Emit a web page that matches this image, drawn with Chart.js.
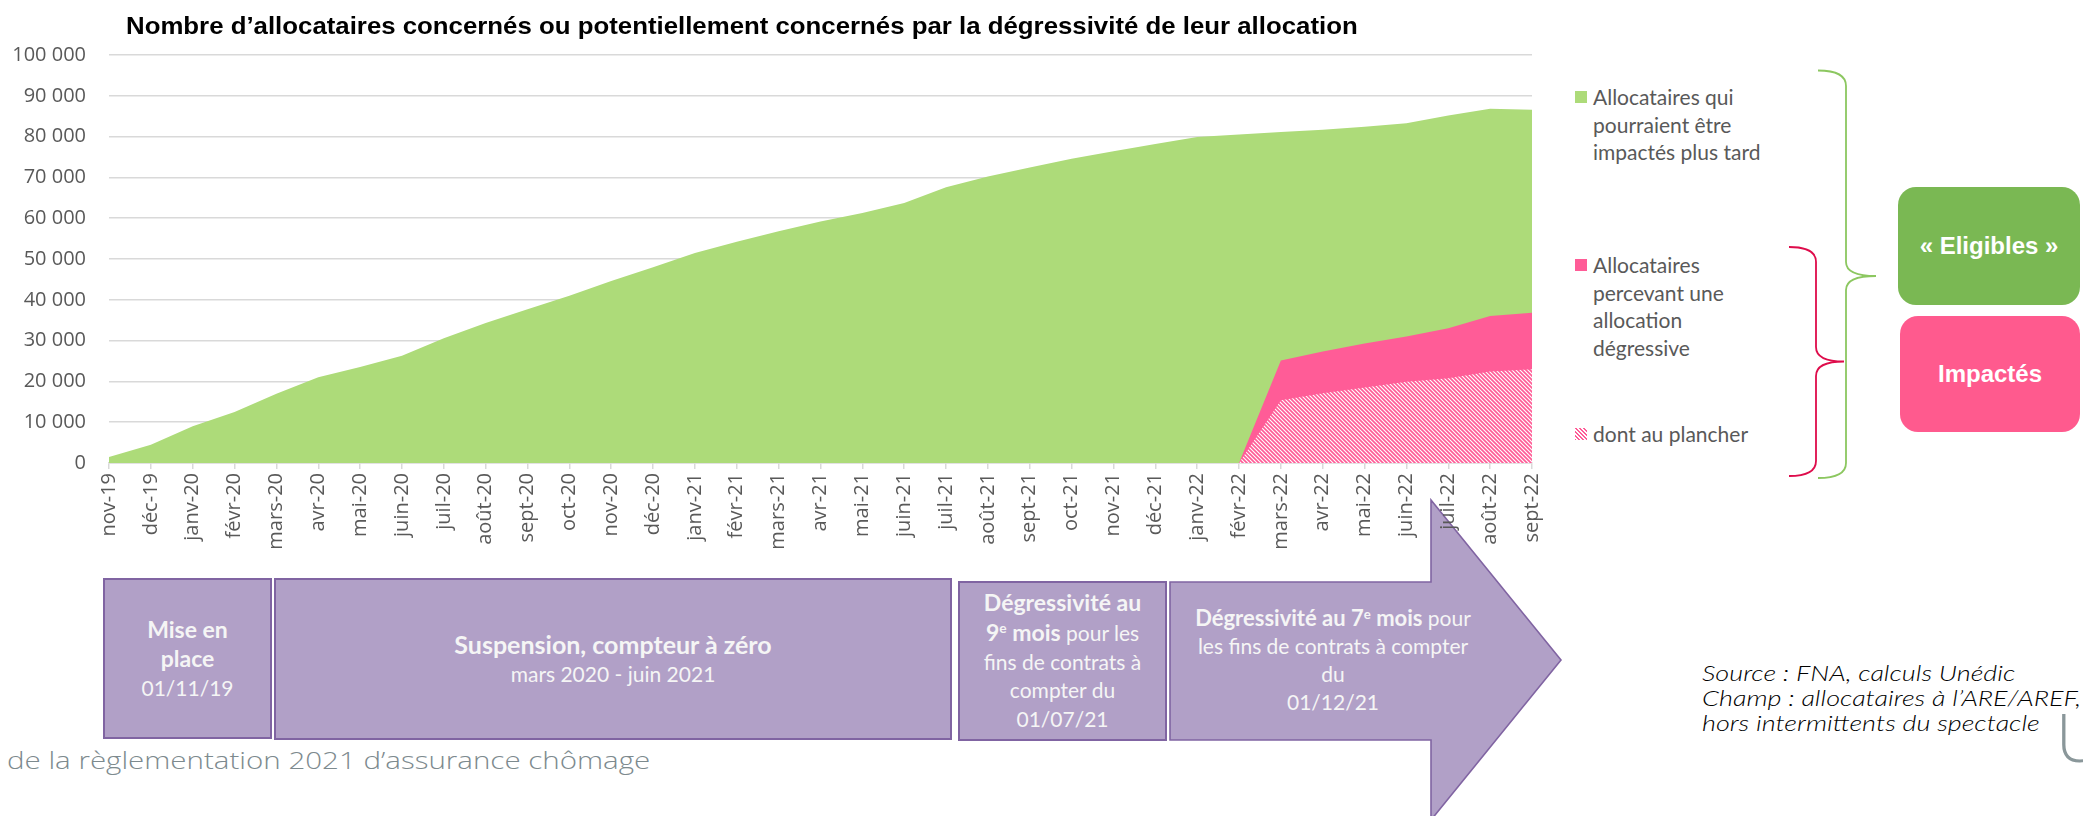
<!DOCTYPE html>
<html lang="fr">
<head>
<meta charset="utf-8">
<title>Dégressivité</title>
<script src="https://cdn.jsdelivr.net/npm/chart.js@4.4.1/dist/chart.umd.min.js"></script>
<style>
html,body{margin:0;padding:0;background:#fff;}
#page{position:relative;width:2083px;height:816px;overflow:hidden;font-family:'Lato','Open Sans',sans-serif;}
#chart{position:absolute;left:0;top:0;z-index:2;}
#deco{position:absolute;left:0;top:0;z-index:1;}
.title{position:absolute;left:126px;top:12px;white-space:nowrap;font-family:'Liberation Sans',Arial,sans-serif;font-weight:bold;font-size:24px;line-height:28px;color:#000;transform-origin:left center;z-index:3;}
.leg{position:absolute;left:1575px;font-size:21px;line-height:27.7px;color:#595959;z-index:3;}
.leg .sw{position:absolute;left:0;width:12px;height:12px;}
.leg .tx{position:absolute;left:18px;white-space:nowrap;}
.rbox{position:absolute;border-radius:18px;color:#fff;font-family:'Liberation Sans',Arial,sans-serif;font-weight:bold;font-size:24px;display:flex;align-items:center;justify-content:center;z-index:3;}
.box{position:absolute;box-sizing:border-box;background:#B1A0C7;border:2px solid #8064A2;color:#F5F5F5;display:flex;flex-direction:column;justify-content:center;align-items:center;text-align:center;font-size:21px;line-height:29px;z-index:3;}
.box b{font-weight:bold;}
.box sup,.atext sup{font-size:0.6em;line-height:0;vertical-align:0.55em;}
.atext{position:absolute;left:1180px;width:306px;top:600px;height:120px;color:#F5F5F5;text-align:center;font-size:21px;line-height:27.8px;display:flex;flex-direction:column;justify-content:center;z-index:3;}
.src{position:absolute;left:1702px;top:660px;font-style:italic;font-weight:300;font-size:21px;line-height:25px;color:#000;white-space:nowrap;transform-origin:left top;z-index:3;}
.foot{position:absolute;left:7px;top:744px;font-family:'Open Sans',sans-serif;font-weight:300;font-size:24px;line-height:32px;color:#7D8A8E;white-space:nowrap;transform-origin:left center;z-index:3;}
.ulogo{position:absolute;left:2056px;top:696px;font-family:'Open Sans',sans-serif;font-weight:300;font-size:66px;line-height:80px;color:#8A979A;z-index:3;}
</style>
</head>
<body>
<div id="page">
  <svg id="deco" width="2083" height="816">
    <polygon points="1170,582 1431,582 1431,500 1561,660 1431,820 1431,740 1170,740" fill="#B1A0C7" stroke="#8064A2" stroke-width="1.6"/>
    <path d="M 1818 70.5 Q 1846 70.5 1846 86 L 1846 262 Q 1846 276 1876 276 Q 1846 276 1846 290 L 1846 463 Q 1846 478 1818 478" fill="none" stroke="#8CC760" stroke-width="1.8"/>
    <path d="M 1789 247 Q 1816 247 1816 262 L 1816 347 Q 1816 361.5 1844 361.5 Q 1816 361.5 1816 376 L 1816 461 Q 1816 476 1789 476" fill="none" stroke="#DE0C4B" stroke-width="1.8"/>
  </svg>
  <canvas id="chart" width="1560" height="560" style="width:1560px;height:560px"></canvas>

  <div class="title" id="title">Nombre d’allocataires concernés ou potentiellement concernés par la dégressivité de leur allocation</div>

  <div class="leg" style="top:82.8px;">
    <div class="sw" style="top:8px;background:#ADDB79;"></div>
    <div class="tx">Allocataires qui<br>pourraient être<br>impactés plus tard</div>
  </div>
  <div class="leg" style="top:251px;">
    <div class="sw" style="top:8px;background:#FF5C97;"></div>
    <div class="tx">Allocataires<br>percevant une<br>allocation<br>dégressive</div>
  </div>
  <div class="leg" style="top:419.5px;">
    <div class="sw" style="top:8px;background:repeating-linear-gradient(45deg,#FF5C97 0 1.4px,#fff 1.4px 2.8px);"></div>
    <div class="tx">dont au plancher</div>
  </div>

  <div class="rbox" style="left:1898px;top:187px;width:182px;height:118px;background:#7AB853;">« Eligibles »</div>
  <div class="rbox" style="left:1900px;top:316px;width:180px;height:116px;background:#FF5A8E;">Impactés</div>

  <div class="box" style="left:103px;top:578px;width:169px;height:161px;"><b style="font-size:23px;">Mise en<br>place</b><span>01/11/19</span></div>
  <div class="box" style="left:274px;top:578px;width:678px;height:162px;line-height:30px;"><b style="font-size:25px;">Suspension, compteur à zéro</b><span style="font-size:21px;">mars 2020 - juin 2021</span></div>
  <div class="box" style="left:958px;top:581px;width:209px;height:160px;line-height:28.7px;font-size:21px;"><div><b style="font-size:23px;">Dégressivité au<br>9<sup>e</sup> mois</b> pour les<br>fins de contrats à<br>compter du<br>01/07/21</div></div>
  <div class="atext"><div><b style="font-size:22px;">Dégressivité au 7<sup>e</sup> mois</b> pour<br>les fins de contrats à compter<br>du<br>01/12/21</div></div>

  <div class="src" id="src"><span>Source : FNA, calculs Unédic</span><br><span id="srcw">Champ : allocataires à l’ARE/AREF,</span><br><span>hors intermittents du spectacle</span></div>
  <div class="foot" id="foot">de la règlementation 2021 d’assurance chômage</div>
  <div class="ulogo">U</div>
</div>

<script>
// ---- Data ----
const months = ['nov-19','déc-19','janv-20','févr-20','mars-20','avr-20','mai-20','juin-20','juil-20','août-20','sept-20','oct-20','nov-20','déc-20','janv-21','févr-21','mars-21','avr-21','mai-21','juin-21','juil-21','août-21','sept-21','oct-21','nov-21','déc-21','janv-22','févr-22','mars-22','avr-22','mai-22','juin-22','juil-22','août-22','sept-22'];

// Total « éligibles » (top of the green area)
const eligibles = [1500,4500,9000,12500,17000,21000,23500,26300,30600,34300,37700,41000,44600,48000,51500,54200,56800,59200,61300,63700,67600,70200,72400,74600,76400,78200,79900,80500,81100,81700,82400,83300,85200,86800,86600];

// Impactés: allocataires percevant une allocation dégressive (top of the pink area)
const impactes = [null,null,null,null,null,null,null,null,null,null,null,null,null,null,null,null,null,null,null,null,null,null,null,null,null,null,null,0,25100,27300,29300,31000,33000,36000,36800];

// dont au plancher (hatched area)
const plancher = [null,null,null,null,null,null,null,null,null,null,null,null,null,null,null,null,null,null,null,null,null,null,null,null,null,null,null,0,15400,17100,18500,19900,20800,22400,23000];

const yTicks = { min: 0, max: 100000, step: 10000 };

// ---- Colours ----
const GREEN = '#ADDB79';
const PINK = '#FF5C97';

function hatch() {
  const c = document.createElement('canvas');
  c.width = 4; c.height = 4;
  const g = c.getContext('2d');
  g.fillStyle = '#fff'; g.fillRect(0, 0, 4, 4);
  g.strokeStyle = PINK; g.lineWidth = 1.7;
  g.beginPath();
  g.moveTo(-1, -1); g.lineTo(5, 5);
  g.moveTo(3, -1); g.lineTo(5, 1);
  g.moveTo(-1, 3); g.lineTo(1, 5);
  g.stroke();
  return g.createPattern(c, 'repeat');
}

function fmt(v) { return String(v).replace(/\B(?=(\d{3})+(?!\d))/g, ' '); }

const ctx = document.getElementById('chart').getContext('2d');
new Chart(ctx, {
  type: 'line',
  data: {
    labels: months,
    datasets: [
      { label: 'dont au plancher', data: plancher, fill: 'origin', backgroundColor: hatch(), borderColor: 'transparent', borderWidth: 0, pointRadius: 0, order: 1 },
      { label: 'Allocataires percevant une allocation dégressive', data: impactes, fill: 'origin', backgroundColor: PINK, borderColor: 'transparent', borderWidth: 0, pointRadius: 0, order: 2 },
      { label: 'Allocataires qui pourraient être impactés plus tard', data: eligibles, fill: 'origin', backgroundColor: GREEN, borderColor: 'transparent', borderWidth: 0, pointRadius: 0, order: 3 }
    ]
  },
  options: {
    responsive: false,
    animation: false,
    devicePixelRatio: 1,
    elements: { line: { tension: 0 } },
    layout: { padding: { top: 55, right: 15, left: 0, bottom: 0 } },
    plugins: { legend: { display: false }, tooltip: { enabled: false }, title: { display: false } },
    scales: {
      x: {
        offset: false,
        grid: { drawOnChartArea: false, color: '#D9D9D9', tickLength: 6, lineWidth: 1.5 },
        border: { color: '#D9D9D9', width: 1.5 },
        ticks: { color: '#595959', font: { family: 'Open Sans', size: 20 }, minRotation: 90, maxRotation: 90, autoSkip: false, padding: 4 },
        afterFit: s => { s.height = 97; }
      },
      y: {
        min: yTicks.min, max: yTicks.max,
        grid: { color: '#D9D9D9', lineWidth: 1.5, drawTicks: false },
        border: { display: false },
        ticks: { stepSize: yTicks.step, color: '#595959', font: { family: 'Open Sans', size: 20 }, padding: 23, callback: v => fmt(v) },
        afterFit: s => { s.width = 109; }
      }
    }
  }
});

function fit() {
  const t = document.getElementById('title');
  t.style.transform = 'none';
  t.style.transform = 'scaleX(' + (1232 / t.scrollWidth) + ')';
  const f = document.getElementById('foot');
  f.style.transform = 'none';
  f.style.transform = 'scaleX(' + (643 / f.scrollWidth) + ')';
  const s = document.getElementById('src');
  const w = document.getElementById('srcw');
  s.style.transform = 'none';
  s.style.transform = 'scaleX(' + (379 / w.getBoundingClientRect().width) + ')';
}
fit();
if (document.fonts && document.fonts.ready) document.fonts.ready.then(fit);
</script>
</body>
</html>
